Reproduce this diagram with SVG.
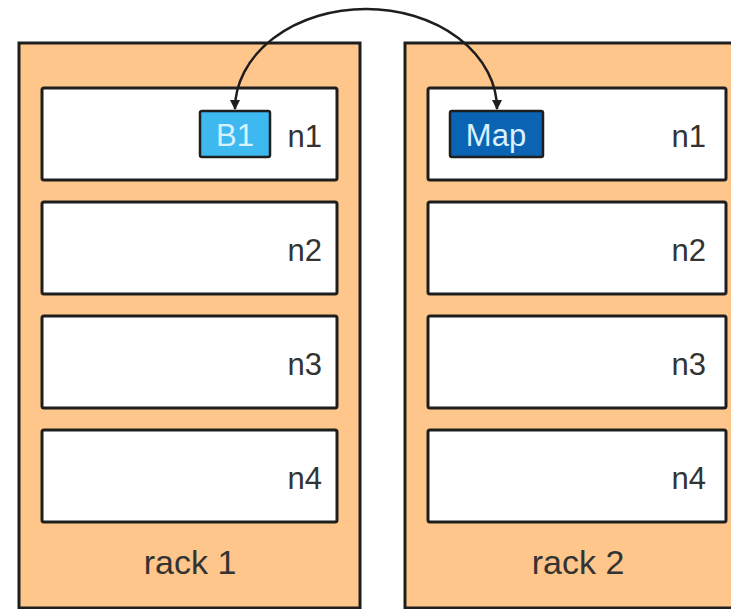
<svg xmlns="http://www.w3.org/2000/svg" width="731" height="609" viewBox="0 0 731 609">
<defs>
<style>
.rack{fill:#fec68a;stroke:#1e1e1e;stroke-width:3}
.node{fill:#ffffff;stroke:#1e1e1e;stroke-width:3}
.lbl{font-family:"Liberation Sans",Arial,sans-serif;font-size:31px;fill:#333333;text-anchor:end}
.rlbl{font-family:"Liberation Sans",Arial,sans-serif;font-size:34px;fill:#333333;text-anchor:middle}
.blk{font-family:"Liberation Sans",Arial,sans-serif;font-size:31px;fill:#d9f1ff;text-anchor:middle}
.conn{fill:none;stroke:#1e1e1e;stroke-width:2.5}
</style>
<marker id="ah" viewBox="0 0 10 10" refX="9" refY="5" markerWidth="4" markerHeight="4" orient="auto-start-reverse" markerUnits="strokeWidth">
<path d="M0,0 L10,5 L0,10 z" fill="#1e1e1e"/>
</marker>
</defs>
<rect width="731" height="609" fill="#ffffff"/>
<g id="rack1">
<rect class="rack" x="19" y="43" width="341" height="565"/>
<text class="rlbl" x="190" y="574">rack 1</text>
</g>
<g id="rack2">
<rect class="rack" x="405" y="43" width="330" height="565"/>
<text class="rlbl" x="578" y="574">rack 2</text>
</g>
<g id="r1n1"><rect class="node" x="42" y="88" width="295" height="92" rx="2"/><text class="lbl" x="322" y="147">n1</text></g>
<g id="r1n2"><rect class="node" x="42" y="202" width="295" height="92" rx="2"/><text class="lbl" x="322" y="261">n2</text></g>
<g id="r1n3"><rect class="node" x="42" y="316" width="295" height="92" rx="2"/><text class="lbl" x="322" y="375">n3</text></g>
<g id="r1n4"><rect class="node" x="42" y="430" width="295" height="92" rx="2"/><text class="lbl" x="322" y="489">n4</text></g>
<g id="r2n1"><rect class="node" x="428" y="88" width="298" height="92" rx="2"/><text class="lbl" x="706" y="147">n1</text></g>
<g id="r2n2"><rect class="node" x="428" y="202" width="298" height="92" rx="2"/><text class="lbl" x="706" y="261">n2</text></g>
<g id="r2n3"><rect class="node" x="428" y="316" width="298" height="92" rx="2"/><text class="lbl" x="706" y="375">n3</text></g>
<g id="r2n4"><rect class="node" x="428" y="430" width="298" height="92" rx="2"/><text class="lbl" x="706" y="489">n4</text></g>
<g id="b1">
<rect x="200" y="111" width="70" height="46" rx="2" fill="#3db9f0" stroke="#1e1e1e" stroke-width="2.5"/>
<text class="blk" x="235" y="146">B1</text>
</g>
<g id="map">
<rect x="450" y="111" width="93" height="46" rx="2" fill="#0a64b3" stroke="#1e1e1e" stroke-width="2.5"/>
<text class="blk" x="496" y="146">Map</text>
</g>
<g id="connectors">
<path class="conn" d="M235,109 A131,100 0 0 1 497,109" marker-start="url(#ah)" marker-end="url(#ah)"/>
</g>
</svg>
